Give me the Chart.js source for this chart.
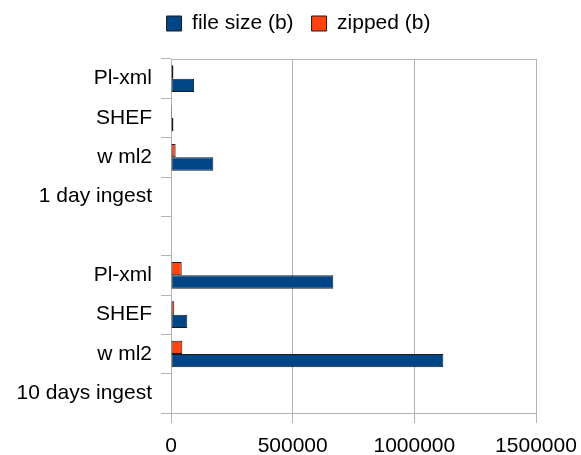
<!DOCTYPE html>
<html>
<head>
<meta charset="utf-8">
<title>File size vs zipped size</title>
<script src="https://cdn.jsdelivr.net/npm/chart.js@4/dist/chart.umd.min.js"></script>
<style>
  html, body { margin: 0; padding: 0; background: #ffffff; }
  #wrap { width: 581px; height: 455px; }
</style>
</head>
<body>
<div id="wrap"><canvas id="c" width="581" height="455"></canvas></div>
<script>
// Categories, top to bottom
const categories = ['Pl-xml', 'SHEF', 'w ml2', '1 day ingest', '', 'Pl-xml', 'SHEF', 'w ml2', '10 days ingest'];

// Sizes in bytes (null = no bar for the group label rows)
const fileSize = [95000, 10000, 174000, null, null, 667000, 67000, 1119000, null];
const zipped   = [10000, 4000, 19000, null, null, 44000, 13500, 46500, null];

// Value axis ticks
const xTicks = [0, 500000, 1000000, 1500000];

const FONT = { family: '"Liberation Sans", Arial, sans-serif', size: 21 };
const GRID = '#b3b3b3';

// Frame around the plot area and legend spacing tweaks
const framePlugin = {
  id: 'frame',
  beforeLayout(chart) {
    const legend = chart.legend;
    if (legend && !legend._fitPatched) {
      const fit = legend.fit;
      legend.fit = function () { fit.call(this); this.height = 59; };
      legend._fitPatched = true;
    }
  },
  afterLayout(chart) {
    if (chart.legend) { chart.legend.top -= 5; chart.legend.bottom -= 5; }
  },
  afterDatasetsDraw(chart) {
    const a = chart.chartArea;
    const ctx = chart.ctx;
    ctx.save();
    ctx.strokeStyle = GRID;
    ctx.lineWidth = 1;
    ctx.beginPath();
    ctx.moveTo(a.left, Math.round(a.top) + 0.5);
    ctx.lineTo(a.right, Math.round(a.top) + 0.5);
    ctx.stroke();
    ctx.restore();
  }
};

new Chart(document.getElementById('c'), {
  type: 'bar',
  data: {
    labels: categories,
    datasets: [
      {
        label: 'zipped (b)',
        data: zipped,
        backgroundColor: '#ff420e',
        borderColor: '#1a1a1a',
        borderWidth: 1,
        borderSkipped: false
      },
      {
        label: 'file size (b)',
        data: fileSize,
        backgroundColor: '#004586',
        borderColor: '#1a1a1a',
        borderWidth: 1,
        borderSkipped: false
      }
    ]
  },
  options: {
    indexAxis: 'y',
    responsive: false,
    animation: false,
    devicePixelRatio: 1,
    layout: { padding: { left: 16, right: 0, top: 0, bottom: 0 } },
    datasets: { bar: { categoryPercentage: 0.68, barPercentage: 1.0 } },
    plugins: {
      tooltip: { enabled: false },
      legend: {
        position: 'top',
        reverse: true,
        labels: {
          font: FONT,
          color: '#000000',
          boxWidth: 15,
          boxHeight: 15,
          padding: 18
        }
      }
    },
    scales: {
      x: {
        type: 'linear',
        min: xTicks[0],
        max: xTicks[xTicks.length - 1],
        afterBuildTicks(scale) { scale.ticks = xTicks.map(v => ({ value: v })); },
        afterFit(scale) { scale.paddingRight = 45; scale.height = 42; },
        ticks: {
          font: FONT,
          color: '#000000',
          padding: 11,
          maxRotation: 0,
          callback: v => String(v)
        },
        grid: { color: GRID, tickLength: 10, drawOnChartArea: true },
        border: { color: GRID }
      },
      y: {
        type: 'category',
        offset: true,
        afterFit(scale) { scale.width = 155; },
        ticks: { font: FONT, color: '#000000', padding: 9, autoSkip: false },
        grid: { color: GRID, tickLength: 10, drawOnChartArea: false, offset: true },
        border: { color: GRID }
      }
    }
  },
  plugins: [framePlugin]
});
</script>
</body>
</html>
